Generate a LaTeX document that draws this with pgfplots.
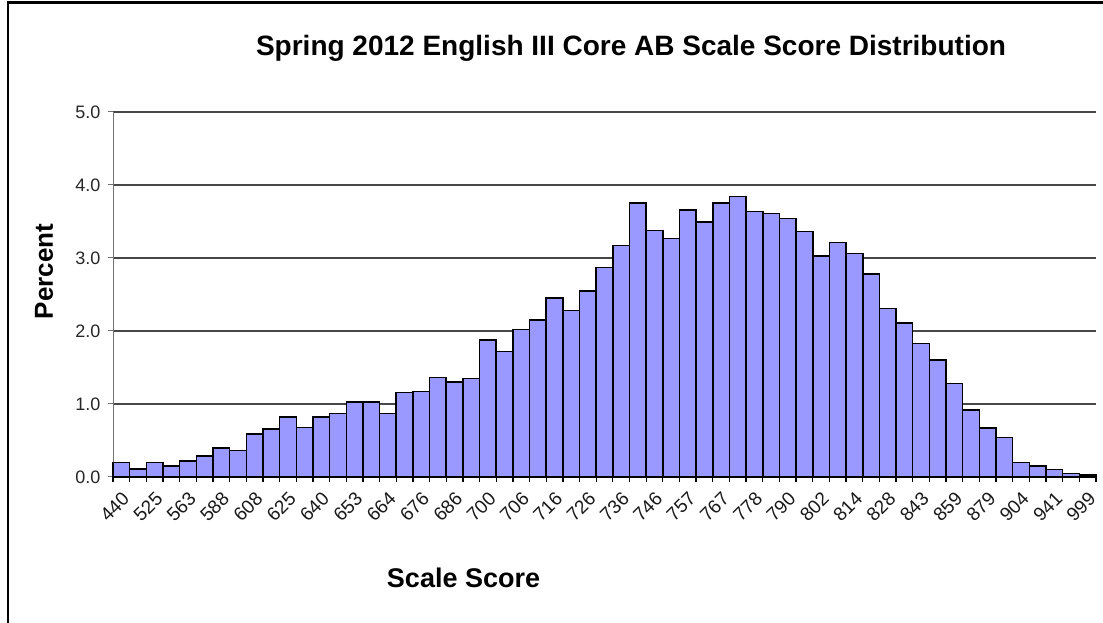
\documentclass[border=0pt]{standalone}
\usepackage{pgfplots}
\pgfplotsset{compat=1.18}
\usepackage{fontspec}
\setmainfont{Liberation Sans}
\definecolor{barfill}{HTML}{9999FF}
\begin{document}
\begin{tikzpicture}[x=1pt,y=1pt]
\useasboundingbox (0,0) rectangle (1103,623);
\draw[line width=2.5pt] (8,0) -- (8,620.5) -- (1103,620.5);
\begin{axis}[
  at={(113pt,146pt)}, anchor=south west,
  scale only axis, width=983pt, height=365pt,
  xmin=-0.5, xmax=58.5, ymin=0, ymax=5,
  axis x line*=bottom, axis y line*=left,
  x axis line style={black, line width=1.6pt, -},
  y axis line style={black!55, line width=1pt, -},
  ymajorgrids=true,
  grid style={black!72, line width=1.1pt},
  tick align=outside,
  major tick length=5pt, minor tick length=5pt,
  xtick={0,2,...,58},
  xticklabels={440,525,563,588,608,625,640,653,664,676,686,700,706,716,726,736,746,757,767,778,790,802,814,828,843,859,879,904,941,999},
  major x tick style={draw=none},
  minor xtick={-0.5,0.5,...,58.5},
  minor x tick style={black, line width=1.3pt},
  ytick={0,1,2,3,4,5},
  y tick style={black!55, line width=1pt},
  /pgf/number format/assume math mode=true,
  yticklabel style={xshift=-4pt, /pgf/number format/fixed, /pgf/number format/fixed zerofill, /pgf/number format/precision=1, font=\fontsize{18}{21}\selectfont, text=black!85},
  xticklabel style={xshift=7pt, yshift=-11pt, rotate=45, anchor=east, font=\fontsize{19}{22}\selectfont, text=black!90},
  title={Spring 2012 English III Core AB Scale Score Distribution},
  title style={at={(axis description cs:0.527,1.158)}, anchor=center, font=\bfseries\fontsize{28}{34}\selectfont},
  xlabel={Scale Score},
  xlabel style={at={(axis description cs:0.3566,-0.2767)}, anchor=center, font=\bfseries\fontsize{27}{32}\selectfont},
  ylabel={Percent},
  ylabel style={at={(axis description cs:-0.0702,0.563)}, anchor=center, font=\bfseries\fontsize{26}{31}\selectfont},
  ybar, bar width=1,
  clip=false,
]
\addplot[fill=barfill, draw=black, line width=1.5pt] coordinates {
(0,0.20) (1,0.11) (2,0.20) (3,0.15) (4,0.22) (5,0.29) (6,0.40) (7,0.36) (8,0.59) (9,0.66)
(10,0.82) (11,0.68) (12,0.82) (13,0.87) (14,1.03) (15,1.03) (16,0.87) (17,1.16) (18,1.17) (19,1.36)
(20,1.30) (21,1.35) (22,1.88) (23,1.72) (24,2.02) (25,2.15) (26,2.45) (27,2.28) (28,2.55) (29,2.87)
(30,3.17) (31,3.75) (32,3.38) (33,3.27) (34,3.66) (35,3.49) (36,3.75) (37,3.84) (38,3.64) (39,3.61)
(40,3.54) (41,3.36) (42,3.03) (43,3.21) (44,3.06) (45,2.78) (46,2.31) (47,2.11) (48,1.83) (49,1.60)
(50,1.28) (51,0.92) (52,0.67) (53,0.54) (54,0.20) (55,0.15) (56,0.10) (57,0.05) (58,0.03)
};
\end{axis}
\end{tikzpicture}
\end{document}
